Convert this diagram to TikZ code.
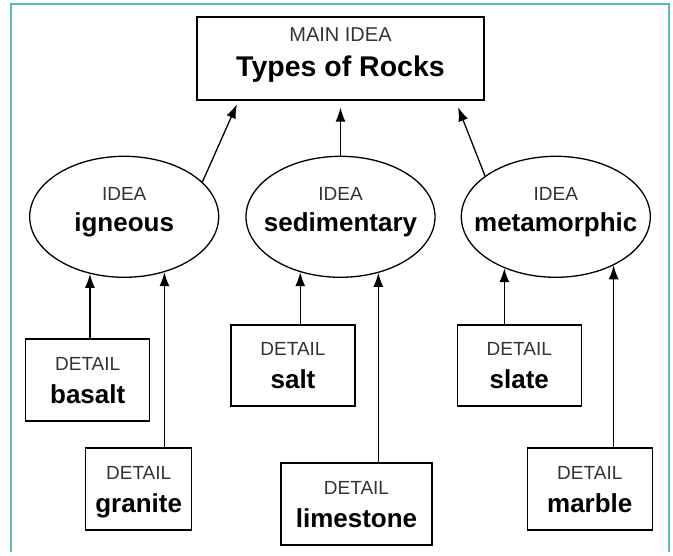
\documentclass[tikz,border=0pt]{standalone}
\usepackage{fontspec}
\setmainfont{Liberation Sans}
\usepackage{tikz}
\usetikzlibrary{calc, shapes, arrows.meta, positioning}
\definecolor{frameteal}{RGB}{92,187,183}
\tikzstyle{mainbox} = [rectangle, draw=black, line width=1.3pt, minimum width=287pt, minimum height=83pt, inner sep=0pt, align=center, text depth=12pt, font=\fontsize{20}{35}\selectfont]
\tikzstyle{idea} = [ellipse, draw=black, line width=1.3pt, minimum width=189pt, minimum height=121pt, inner ysep=0pt, inner xsep=-40pt, align=center, text depth=15.5pt, font=\fontsize{19}{31}\selectfont]
\tikzstyle{detail} = [rectangle, draw=black, line width=1.3pt, minimum height=82pt, inner sep=0pt, align=center, text depth=0pt, font=\fontsize{19}{33}\selectfont]
\tikzstyle{connector} = [draw, line width=1.3pt, -{Latex[length=14pt,width=10pt]}]

\begin{document}
\begin{tikzpicture}[x=1pt, y=-1pt]
    \useasboundingbox (0,0) rectangle (673,556);
    \draw [frameteal, line width=2pt] (11,552) -- (11,4) -- (669,4) -- (669,552);

    % Nodes
    \node [mainbox] (main) at (340.5,58.5) {{\color{black!80}MAIN IDEA}\\{\fontsize{28.5}{35}\selectfont\bfseries Types of Rocks}};
    \node [idea, below=55pt of main] (sedimentary) {{\color{black!80}IDEA}\\{\fontsize{26}{31}\selectfont\bfseries sedimentary}};
    \node [idea, left=26pt of sedimentary] (igneous) {{\color{black!80}IDEA}\\{\fontsize{26}{31}\selectfont\bfseries igneous}};
    \node [idea, right=25pt of sedimentary] (metamorphic) {{\color{black!80}IDEA}\\{\fontsize{26}{31}\selectfont\bfseries metamorphic}};
    \node [detail, minimum width=124pt, below=60.5pt of igneous, xshift=-36.5pt] (basalt) {{\color{black!80}DETAIL}\\{\fontsize{26}{33}\selectfont\bfseries basalt}};
    \node [detail, minimum width=106pt, below=169.5pt of igneous, xshift=14.5pt] (granite) {{\color{black!80}DETAIL}\\{\fontsize{26}{33}\selectfont\bfseries granite}};
    \node [detail, minimum width=124pt, minimum height=81pt, below=46.5pt of sedimentary, xshift=-47.5pt] (salt) {{\color{black!80}DETAIL}\\{\fontsize{26}{33}\selectfont\bfseries salt}};
    \node [detail, minimum width=151pt, below=184.5pt of sedimentary, xshift=16pt] (limestone) {{\color{black!80}DETAIL}\\{\fontsize{26}{33}\selectfont\bfseries limestone}};
    \node [detail, minimum width=124pt, minimum height=81pt, below=46.5pt of metamorphic, xshift=-36.5pt] (slate) {{\color{black!80}DETAIL}\\{\fontsize{26}{33}\selectfont\bfseries slate}};
    \node [detail, minimum width=125pt, below=169.5pt of metamorphic, xshift=34pt] (marble) {{\color{black!80}DETAIL}\\{\fontsize{26}{33}\selectfont\bfseries marble}};

    % Arrows
    \path [connector, shorten >=4pt] (igneous.24) -- ($(main.south)+(-102,0)$);
    \path [connector, shorten >=7pt] (sedimentary) -- (main);
    \path [connector, shorten >=7pt] (metamorphic.150) -- ($(main.south)+(115,0)$);
    \path [connector] (basalt.north -| igneous.239) -- (igneous.239);
    \path [connector] (granite.north -| igneous.306) -- (igneous.306);
    \path [connector] (salt.north -| sedimentary.234) -- (sedimentary.234);
    \path [connector] (limestone.north -| sedimentary.304) -- (sedimentary.304);
    \path [connector] (slate.north -| metamorphic.225) -- (metamorphic.225);
    \path [connector] (marble.north -| metamorphic.320) -- (metamorphic.320);
\end{tikzpicture}
\end{document}
